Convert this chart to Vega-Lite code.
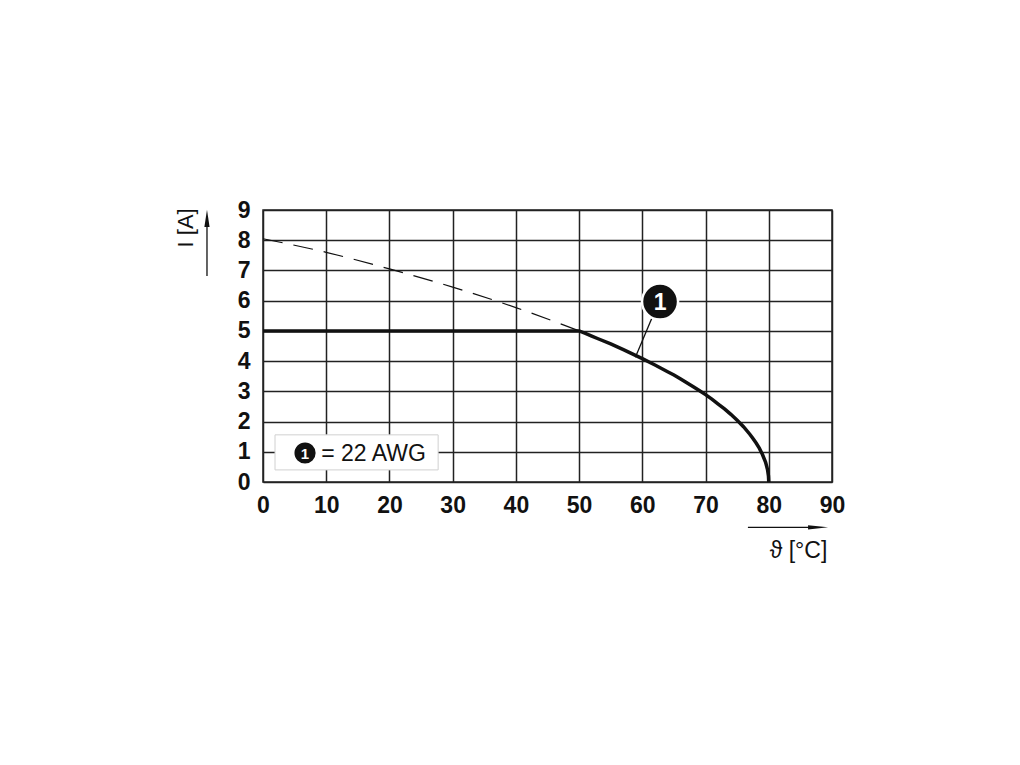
{
  "$schema": "https://vega.github.io/schema/vega-lite/v6.json",
  "width": 569,
  "height": 272,
  "autosize": "none",
  "padding": {"left": 263, "top": 210, "right": 188, "bottom": 283},
  "background": "white",
  "config": {
    "view": {"stroke": "#222", "strokeWidth": 1.5},
    "font": "Liberation Sans",
    "axis": {
      "grid": true, "gridColor": "#222", "gridWidth": 1.5, "gridOpacity": 1,
      "domain": false, "ticks": false, "labelOverlap": false, "labelFlush": false, "labelBound": false,
      "labelFont": "Liberation Sans", "labelFontSize": 23, "labelFontWeight": "bold", "labelColor": "#111",
      "title": null
    }
  },
  "datasets": {
    "solid": [
      {"x": 0, "y": 5}, {"x": 50, "y": 5}, {"x": 51, "y": 4.92}, {"x": 52, "y": 4.83}, {"x": 53, "y": 4.74},
      {"x": 55, "y": 4.57}, {"x": 57, "y": 4.38}, {"x": 58, "y": 4.28}, {"x": 60, "y": 4.08},
      {"x": 62, "y": 3.87}, {"x": 64, "y": 3.65}, {"x": 65, "y": 3.54}, {"x": 66, "y": 3.42},
      {"x": 68, "y": 3.16}, {"x": 69, "y": 3.03}, {"x": 70, "y": 2.89}, {"x": 71, "y": 2.74},
      {"x": 72, "y": 2.58}, {"x": 73, "y": 2.42}, {"x": 74, "y": 2.24},
      {"x": 75, "y": 2.04}, {"x": 76, "y": 1.83}, {"x": 77, "y": 1.58}, {"x": 77.5, "y": 1.44},
      {"x": 78, "y": 1.29}, {"x": 78.5, "y": 1.12}, {"x": 79, "y": 0.91}, {"x": 79.5, "y": 0.65},
      {"x": 79.8, "y": 0.41}, {"x": 79.95, "y": 0.2}, {"x": 80, "y": 0}
    ],
    "dashed": [
      {"x": 0, "y": 8.05}, {"x": 10, "y": 7.6}, {"x": 20, "y": 7.05}, {"x": 30, "y": 6.45},
      {"x": 40, "y": 5.77}, {"x": 50, "y": 5.0}
    ]
  },
  "layer": [
    {
      "data": {"values": [{"x": 1.9, "x2": 27.7, "y": 0.4, "y2": 1.56}]},
      "mark": {"type": "rect", "fill": "white", "stroke": "#d0d0d0", "strokeWidth": 1},
      "encoding": {
        "x": {"field": "x", "type": "quantitative", "scale": {"domain": [0, 90], "nice": false},
              "axis": {"values": [0,10,20,30,40,50,60,70,80,90], "labelPadding": 12, "labelOverlap": false}},
        "x2": {"field": "x2"},
        "y": {"field": "y", "type": "quantitative", "scale": {"domain": [0, 9], "nice": false},
              "axis": {"values": [0,1,2,3,4,5,6,7,8,9], "labelPadding": 13, "labelOverlap": false, "tickCount": 10}},
        "y2": {"field": "y2"}
      }
    },
    {
      "data": {"name": "dashed"},
      "mark": {"type": "line", "color": "#111", "strokeWidth": 1.2, "strokeDash": [20, 11], "interpolate": "monotone"},
      "encoding": {"x": {"field": "x", "type": "quantitative"}, "y": {"field": "y", "type": "quantitative"}}
    },
    {
      "data": {"name": "solid"},
      "mark": {"type": "line", "color": "#111", "strokeWidth": 3.5, "interpolate": "linear"},
      "encoding": {"x": {"field": "x", "type": "quantitative"}, "y": {"field": "y", "type": "quantitative"}}
    },
    {
      "data": {"values": [{"x": 61.5, "y": 5.42, "x2": 58.9, "y2": 4.13}]},
      "mark": {"type": "rule", "color": "#111", "strokeWidth": 1.3},
      "encoding": {"x": {"field": "x", "type": "quantitative"}, "y": {"field": "y", "type": "quantitative"},
                   "x2": {"field": "x2"}, "y2": {"field": "y2"}}
    },
    {
      "data": {"values": [{"x": 62.8, "y": 5.97, "s": 1300}, {"x": 6.65, "y": 0.96, "s": 560}]},
      "mark": {"type": "point", "shape": "circle", "filled": true, "fill": "#111", "stroke": "white", "strokeWidth": 2.5, "opacity": 1},
      "encoding": {"x": {"field": "x", "type": "quantitative"}, "y": {"field": "y", "type": "quantitative"},
                   "size": {"field": "s", "type": "quantitative", "scale": null}}
    },
    {
      "data": {"values": [{"x": 62.8, "y": 5.97, "t": "1", "fs": 23}, {"x": 6.65, "y": 0.96, "t": "1", "fs": 15}]},
      "mark": {"type": "text", "color": "white", "fontWeight": "bold", "font": "Liberation Sans", "align": "center", "baseline": "middle", "dy": 1},
      "encoding": {"x": {"field": "x", "type": "quantitative"}, "y": {"field": "y", "type": "quantitative"},
                   "text": {"field": "t"}, "size": {"field": "fs", "type": "quantitative", "scale": null}}
    },
    {
      "data": {"values": [{"x": 9.2, "y": 0.96, "t": "= 22 AWG"}]},
      "mark": {"type": "text", "color": "#111", "fontSize": 23, "font": "Liberation Sans", "align": "left", "baseline": "middle", "dy": 1},
      "encoding": {"x": {"field": "x", "type": "quantitative"}, "y": {"field": "y", "type": "quantitative"}, "text": {"field": "t"}}
    },
    {
      "data": {"values": [{"x": -8.86, "y": 6.82, "x2": -8.86, "y2": 8.5}, {"x": 76.7, "y": -1.5, "x2": 87, "y2": -1.5}]},
      "mark": {"type": "rule", "color": "#111", "strokeWidth": 1.3, "clip": false},
      "encoding": {"x": {"field": "x", "type": "quantitative"}, "y": {"field": "y", "type": "quantitative"},
                   "x2": {"field": "x2"}, "y2": {"field": "y2"}}
    },
    {
      "data": {"values": [{"x": -8.86, "y": 8.72, "d": "up"}]},
      "mark": {"type": "point", "shape": "M-0.3,1L0,-1L0.3,1Z", "filled": true, "fill": "#111", "strokeWidth": 0, "size": 300, "opacity": 1},
      "encoding": {"x": {"field": "x", "type": "quantitative"}, "y": {"field": "y", "type": "quantitative"}}
    },
    {
      "data": {"values": [{"x": 87.8, "y": -1.5, "d": "right"}]},
      "mark": {"type": "point", "shape": "M-1,-0.22L1,0L-1,0.22Z", "filled": true, "fill": "#111", "strokeWidth": 0, "size": 400, "opacity": 1},
      "encoding": {"x": {"field": "x", "type": "quantitative"}, "y": {"field": "y", "type": "quantitative"}}
    },
    {
      "data": {"values": [{"x": -12.2, "y": 8.41, "t": "I [A]"}]},
      "mark": {"type": "text", "color": "#111", "fontSize": 22, "font": "Liberation Sans", "angle": 270, "align": "center", "baseline": "middle"},
      "encoding": {"x": {"field": "x", "type": "quantitative"}, "y": {"field": "y", "type": "quantitative"}, "text": {"field": "t"}}
    },
    {
      "data": {"values": [{"x": 84.7, "y": -2.28, "t": "ϑ [°C]"}]},
      "mark": {"type": "text", "color": "#111", "fontSize": 23, "font": "Liberation Sans", "align": "center", "baseline": "middle"},
      "encoding": {"x": {"field": "x", "type": "quantitative"}, "y": {"field": "y", "type": "quantitative"}, "text": {"field": "t"}}
    }
  ]
}
